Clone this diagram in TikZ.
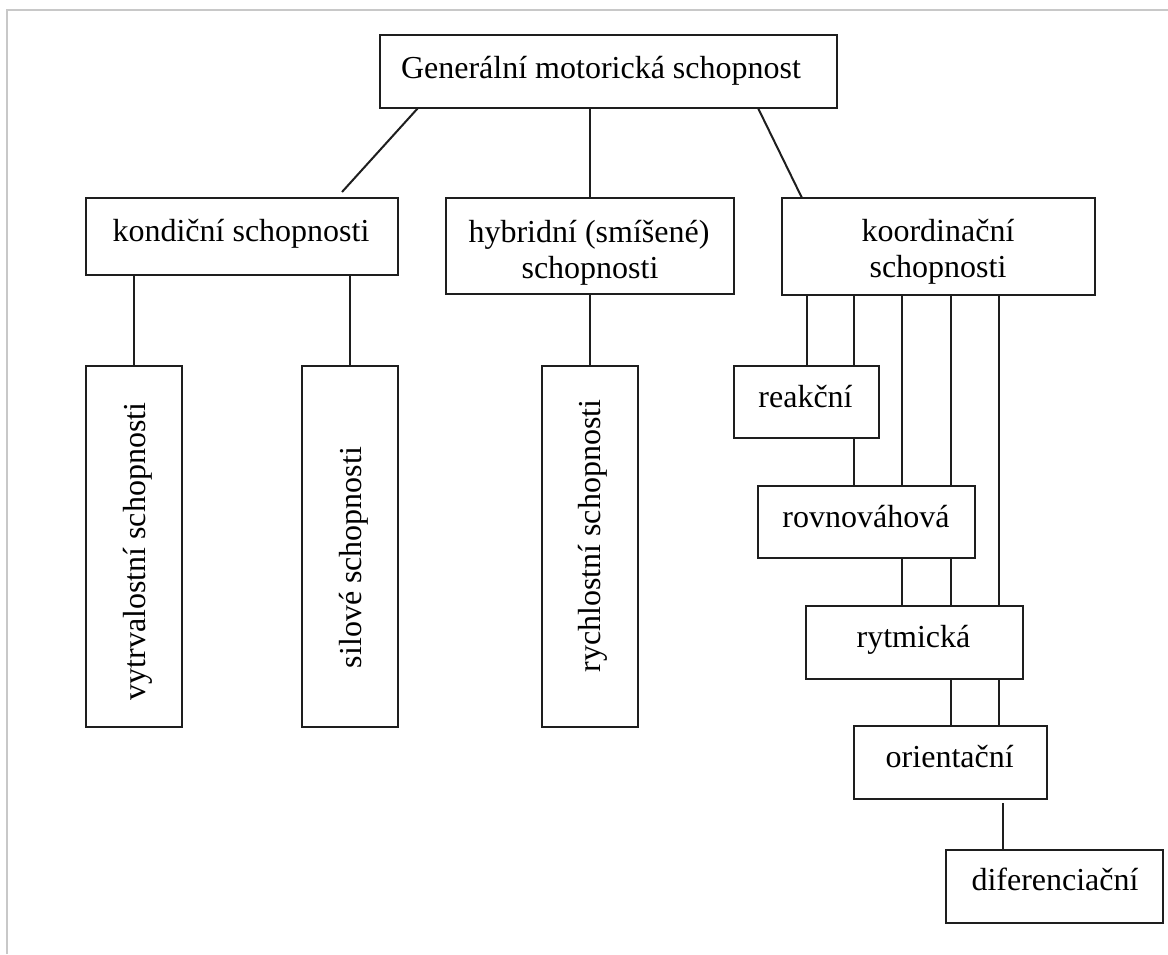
\documentclass[tikz,border=0pt]{standalone}
\usepackage{fontspec}
\setmainfont{Liberation Serif}
\definecolor{ink}{HTML}{1E1E1E}
\definecolor{frame}{HTML}{C8C8C8}
\tikzset{
  box/.style={draw=ink, line width=2pt, rectangle, inner sep=0pt, outer sep=0pt},
  lbl/.style={inner sep=0pt, anchor=base, text=black, font=\fontsize{32}{36}\selectfont},
  vlbl/.style={lbl, rotate=90},
  conn/.style={draw=ink, line width=2pt}
}
\begin{document}
\begin{tikzpicture}[x=1pt,y=-1pt]
\useasboundingbox (0,0) rectangle (1168,954);
% page frame (top and left)
\draw[frame, line width=2pt] (7,954) -- (7,10) -- (1168,10);

% boxes
\node[box, minimum width=457pt, minimum height=73pt] (gen) at (608.5,71.5) {};
\node[box, minimum width=312pt, minimum height=77pt] (kon) at (242,236.5) {};
\node[box, minimum width=288pt, minimum height=96pt] (hyb) at (590,246) {};
\node[box, minimum width=313pt, minimum height=97pt] (koo) at (938.5,246.5) {};
\node[box, minimum width=96pt, minimum height=361pt] (vyt) at (134,546.5) {};
\node[box, minimum width=96pt, minimum height=361pt] (sil) at (350,546.5) {};
\node[box, minimum width=96pt, minimum height=361pt] (ryc) at (590,546.5) {};
\node[box, minimum width=145pt, minimum height=72pt] (rea) at (806.5,402) {};
\node[box, minimum width=217pt, minimum height=72pt] (rov) at (866.5,522) {};
\node[box, minimum width=217pt, minimum height=73pt] (ryt) at (914.5,642.5) {};
\node[box, minimum width=193pt, minimum height=73pt] (ori) at (950.5,762.5) {};
\node[box, minimum width=217pt, minimum height=73pt] (dif) at (1054.5,886.5) {};

% labels
\node[lbl] (tgen) at (601,78) {Generální motorická schopnost};
\node[lbl] (tkon) at (241,241) {kondiční schopnosti};
\node[lbl] (thyb1) at (589,242) {hybridní (smíšené)};
\node[lbl] (thyb2) at (590,278) {schopnosti};
\node[lbl] (tkoo1) at (938,241) {koordinační};
\node[lbl] (tkoo2) at (938,277) {schopnosti};
\node[vlbl] (tvyt) at (145,551.5) {vytrvalostní schopnosti};
\node[vlbl] (tsil) at (361,557.5) {silové schopnosti};
\node[vlbl] (tryc) at (600,536) {rychlostní schopnosti};
\node[lbl] (trea) at (805.5,407) {reakční};
\node[lbl] (trov) at (866,527) {rovnováhová};
\node[lbl] (tryt) at (913.5,647) {rytmická};
\node[lbl] (tori) at (949.7,767) {orientační};
\node[lbl] (tdif) at (1055,890) {diferenciační};

% connectors from the top box
\draw[conn] (gen.south -| 418,0) -- ([yshift=6pt]kon.north -| 342,0);
\draw[conn] (gen.south -| 590,0) -- (hyb.north);
\draw[conn] (gen.south -| 758,0) -- (koo.north -| 802,0);

% kondiční
\draw[conn] (vyt.north |- kon.south) -- (vyt.north);
\draw[conn] (sil.north |- kon.south) -- (sil.north);
% hybridní
\draw[conn] (hyb.south) -- (ryc.north);

% koordinační
\draw[conn] (koo.south -| 807,0) -- (rea.north -| 807,0);
\draw[conn] (koo.south -| 854,0) -- (rea.north -| 854,0);
\draw[conn] (rea.south -| 854,0) -- (rov.north -| 854,0);
\draw[conn] (koo.south -| 902,0) -- (rov.north -| 902,0);
\draw[conn] (rov.south -| 902,0) -- (ryt.north -| 902,0);
\draw[conn] (koo.south -| 951,0) -- (rov.north -| 951,0);
\draw[conn] (rov.south -| 951,0) -- (ryt.north -| 951,0);
\draw[conn] (ryt.south -| 951,0) -- (ori.north -| 951,0);
\draw[conn] (koo.south -| 999,0) -- (ryt.north -| 999,0);
\draw[conn] (ryt.south -| 999,0) -- (ori.north -| 999,0);
\draw[conn] ([yshift=-4pt]ori.south -| 1003,0) -- (dif.north -| 1003,0);
\end{tikzpicture}
\end{document}
